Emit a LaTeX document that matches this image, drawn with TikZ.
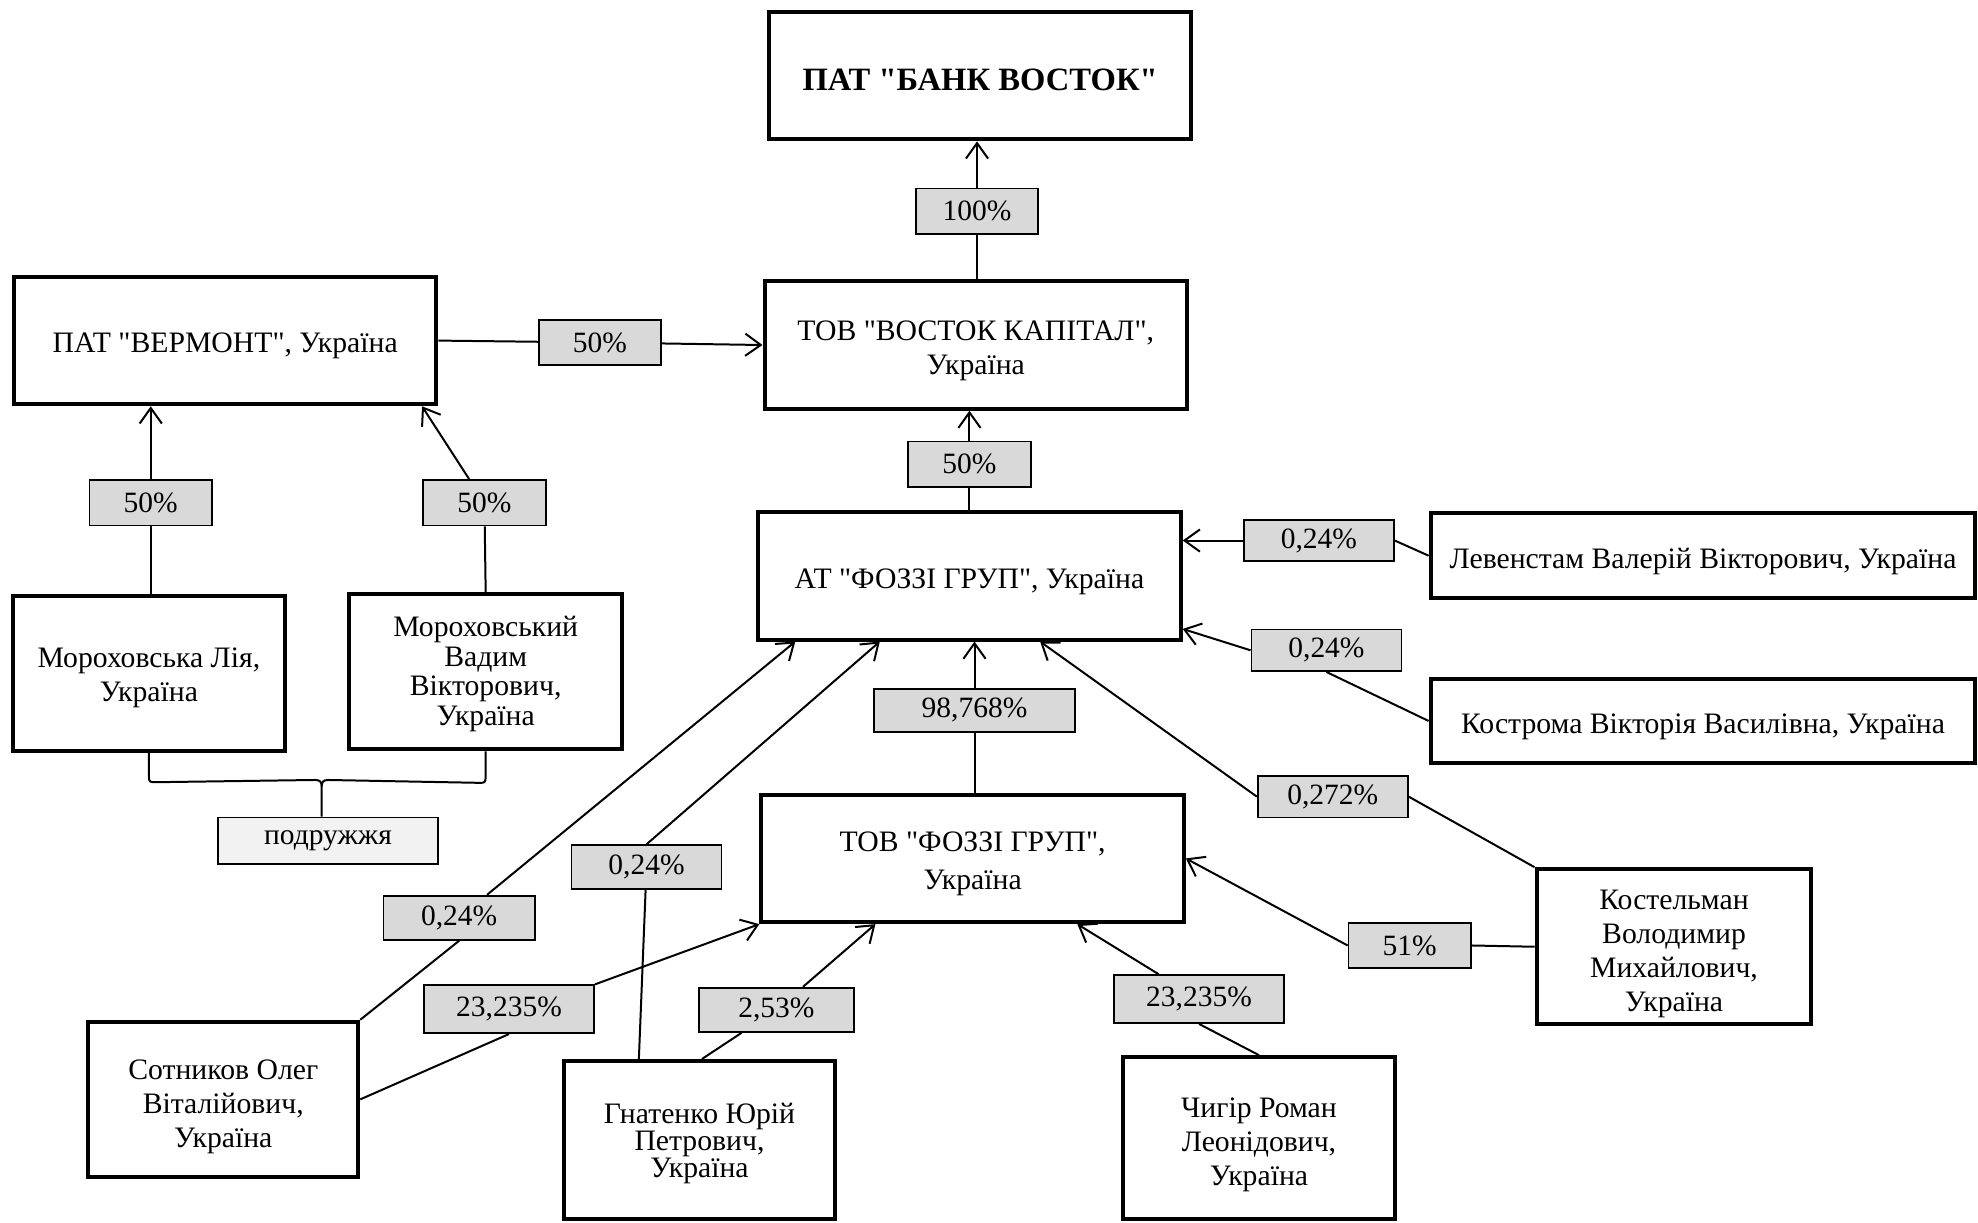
\documentclass[tikz,border=0pt]{standalone}
\usepackage{fontspec}
\setmainfont{Liberation Serif}[Ligatures=TeXOff]
\usetikzlibrary{calc,arrows.meta}
\definecolor{pctgray}{HTML}{D9D9D9}
\definecolor{pairgray}{HTML}{F2F2F2}
\tikzset{
  box/.style={draw,line width=1.8pt,inner sep=0pt},
  boxtext/.style={align=center,inner sep=0pt,yshift=-2.5pt,
    font=\fontsize{13.4}{15.3}\selectfont},
  bigbox/.style={box,minimum width=6.7cm,minimum height=2.02cm},
  person/.style={box,minimum width=4.32cm,minimum height=2.46cm},
  longbox/.style={box,minimum width=8.64cm,minimum height=1.34cm},
  pct/.style={draw,line width=0.8pt,fill=pctgray,inner sep=0pt,
    minimum height=0.72cm,font=\fontsize{13.3}{15}\selectfont}
}
\begin{document}
\begin{tikzpicture}[x=0.02cm,y=-0.02cm,line width=0.9pt,
  >={Straight Barb[length=7pt,width=10pt]}]
  \useasboundingbox (0,0) rectangle (1568,969);

  \node[bigbox,label={[boxtext,yshift=0.8pt,font=\fontsize{14.7}{16}\selectfont\bfseries]center:{ПАТ "БАНК ВОСТОК"}}] (bank) at (777,60) {};
  \node[bigbox,label={[boxtext,yshift=-0.3pt]center:{ТОВ "ВОСТОК КАПІТАЛ",\\ Україна}}] (vostok) at (773.5,273.5) {};
  \node[bigbox,label={[boxtext]center:{ПАТ "ВЕРМОНТ", Україна}}] (vermont) at (178.5,270) {};
  \node[bigbox,label={[boxtext,yshift=-0.3pt]center:{АТ "ФОЗЗІ ГРУП", Україна}}] (fozziat) at (768.5,456.5) {};
  \node[bigbox,label={[boxtext,font=\fontsize{13.4}{17}\selectfont]center:{ТОВ "ФОЗЗІ ГРУП",\\ Україна}}] (fozzitov) at (771,680.5) {};

  \node[person,label={[boxtext,yshift=0.5pt]center:{Мороховська Лія,\\ Україна}}] (lia) at (118,534) {};
  \node[person,label={[boxtext,yshift=1.4pt,font=\fontsize{13.4}{13.3}\selectfont]center:{Мороховський\\ Вадим\\ Вікторович,\\ Україна}}] (vadym) at (385,532.5) {};
  \node[longbox,label={[boxtext,yshift=-0.3pt]center:{Левенстам Валерій Вікторович, Україна}}] (levenstam) at (1350,440.5) {};
  \node[longbox,label={[boxtext]center:{Кострома Вікторія Василівна, Україна}}] (kostroma) at (1350,571.5) {};
  \node[person,minimum width=4.36cm,label={[boxtext,yshift=-0.6pt]center:{Костельман\\ Володимир\\ Михайлович,\\ Україна}}] (kostelman) at (1327,750.5) {};
  \node[person,minimum width=4.28cm,label={[boxtext,yshift=-0.9pt]center:{Сотников Олег\\ Віталійович,\\ Україна}}] (sotnikov) at (177,871.5) {};
  \node[person,minimum width=4.3cm,minimum height=2.5cm,label={[boxtext,yshift=0.8pt,font=\fontsize{13.4}{12.2}\selectfont]center:{Гнатенко Юрій\\ Петрович,\\ Україна}}] (hnatenko) at (554.5,903.5) {};
  \node[person,minimum height=2.56cm,label={[boxtext,yshift=-0.5pt]center:{Чигір Роман\\ Леонідович,\\ Україна}}] (chyhir) at (998,902) {};

  \node[pct,minimum width=1.94cm] (p100) at (774.5,167.5) {100\%};
  \node[pct,minimum width=1.94cm] (pverm) at (475.5,271.5) {50\%};
  \node[pct,minimum width=1.94cm] (plia) at (119.5,398.5) {50\%};
  \node[pct,minimum width=1.96cm] (pvad) at (384,398.5) {50\%};
  \node[pct,minimum width=1.94cm] (pat) at (768.5,368) {50\%};
  \node[pct,minimum width=2.38cm,minimum height=0.66cm] (plev) at (1045.5,428.5) {0,24\%};
  \node[pct,minimum width=2.38cm,minimum height=0.66cm] (pkos) at (1051.5,515.5) {0,24\%};
  \node[pct,minimum width=3.18cm,minimum height=0.68cm] (ptov) at (772.5,563) {98,768\%};
  \node[pct,minimum width=2.38cm,minimum height=0.66cm] (pkel) at (1056.5,631.5) {0,272\%};
  \node[pct,minimum width=1.94cm] (pkelt) at (1117.5,749.5) {51\%};
  \node[pct,minimum width=2.7cm,minimum height=0.76cm] (pchy) at (950.5,792) {23,235\%};
  \node[pct,minimum width=2.38cm,minimum height=0.7cm] (phna) at (512.5,687.5) {0,24\%};
  \node[pct,minimum width=2.4cm,minimum height=0.7cm] (psot) at (364,727.5) {0,24\%};
  \node[pct,minimum width=2.7cm,minimum height=0.76cm] (psott) at (403.5,800) {23,235\%};
  \node[pct,minimum width=2.46cm,minimum height=0.7cm] (phnt) at (615.5,800.5) {2,53\%};
  \node[pct,fill=pairgray,minimum width=3.48cm,minimum height=0.74cm] (podr) at (260,666.5) {подружжя};

  \draw (p100) -- (p100 |- vostok.north);
  \draw[->] (p100) -- (p100 |- bank.south);
  \draw (vermont.east) -- (pverm);
  \draw[->] (pverm) -- (vostok.west);
  \draw (plia |- lia.north) -- (plia);
  \draw[->] (plia) -- (plia |- vermont.south);
  \draw (vadym.north) -- (pvad);
  \draw[->] (pvad) -- ($(vermont.south east)+(-13,0)$);
  \draw (pat) -- (pat |- fozziat.north);
  \draw[->] (pat) -- (pat |- vostok.south);

  \draw (levenstam.west) -- (plev.east);
  \draw[->] (plev.west) -- (plev.west -| fozziat.east);
  \draw (kostroma.west) -- (pkos.south);
  \draw[->] (pkos.west) -- ($(fozziat.south east)+(0,-10)$);
  \draw (kostelman.north west) -- (pkel.east);
  \draw[->] (pkel.west) -- ($(fozziat.south)+(56,0)$);
  \draw (ptov) -- (ptov |- fozzitov.north);
  \draw[->] (ptov) -- (ptov |- fozziat.south);

  \draw (kostelman.west) -- (pkelt.east);
  \draw[->] (pkelt.west) -- (fozzitov.east);
  \draw (chyhir.north) -- (pchy.south);
  \draw[->] (pchy) -- ($(fozzitov.south)+(83,0)$);
  \draw ($(hnatenko.north)+(2,0)$) -- (phnt);
  \draw[->] (phnt) -- ($(fozzitov.south west)+(92,0)$);
  \draw ($(hnatenko.north west)+(61,0)$) -- (phna);
  \draw[->] (phna.north) -- ($(fozziat.south west)+(98,0)$);
  \draw (sotnikov.north east) -- (psot.south);
  \draw[->] (psot) -- ($(fozziat.south west)+(31,0)$);
  \draw (sotnikov.east) -- (psott.south);
  \draw[->] (psott.north east) -- (fozzitov.south west);

  \coordinate (tip) at ($(podr.north)+(-5,-24)$);
  \draw (lia.south) -- ++(0,18) .. controls +(0,5) and +(-4,0) .. ++(5,5)
    -- ($(tip)+(-5,-5)$) .. controls +(4,0) and +(0,-3) .. (tip) -- ($(podr.north)+(-5,0)$);
  \draw (vadym.south) -- ++(0,20) .. controls +(0,5) and +(4,0) .. ++(-5,5)
    -- ($(tip)+(5,-5)$) .. controls +(-4,0) and +(0,-3) .. (tip);
\end{tikzpicture}
\end{document}
